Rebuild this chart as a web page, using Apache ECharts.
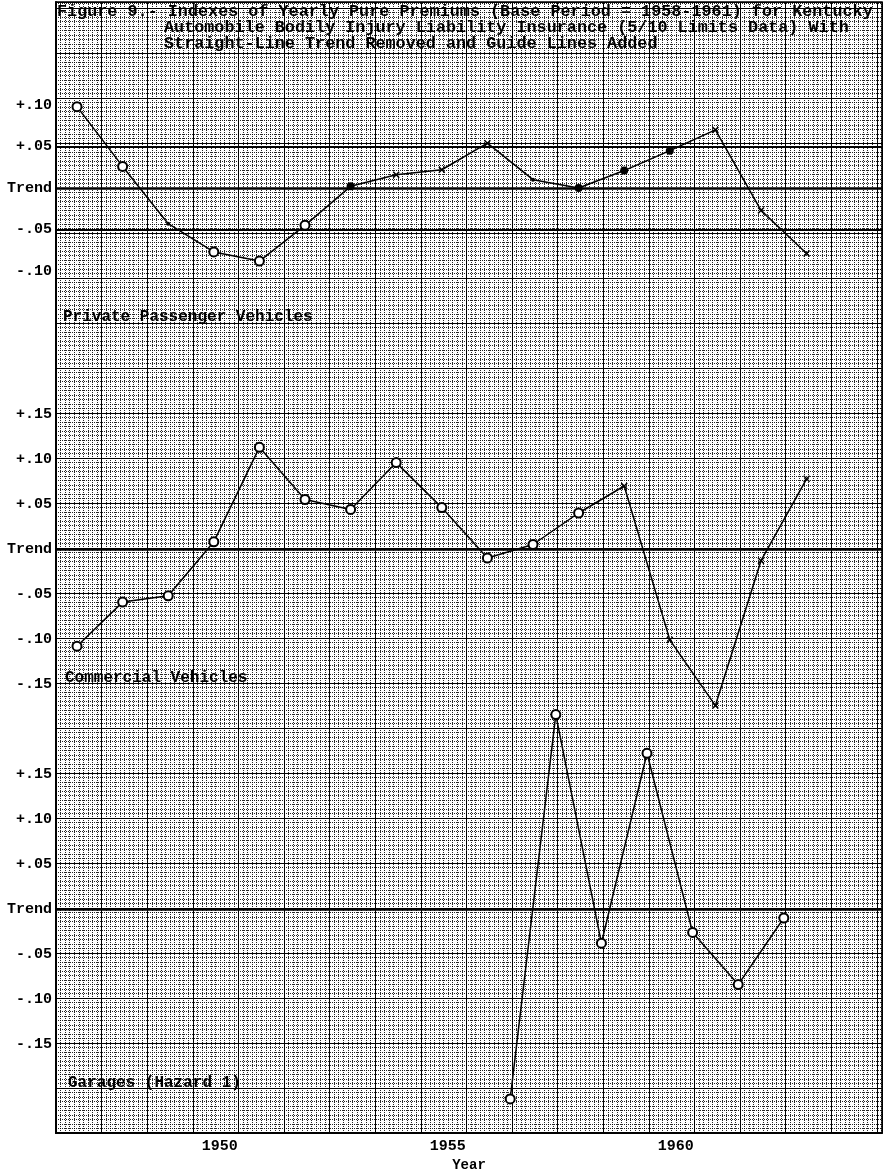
<!DOCTYPE html>
<html>
<head>
<meta charset="utf-8">
<script src="https://cdn.jsdelivr.net/npm/echarts@6/dist/echarts.min.js"></script>
<style>
html,body{margin:0;padding:0;background:#fff;}
#chart{width:884px;height:1170px;}
</style>
</head>
<body>
<div id="chart"></div>
<script>
// ---------------- DATA ----------------
const years = [1947,1948,1949,1950,1951,1952,1953,1954,1955,1956,1957,1958,1959,1960,1961,1962,1963];
const privatePassenger = [0.098,0.026,-0.043,-0.077,-0.088,-0.045,0.002,0.016,0.022,0.054,0.010,0.000,0.021,0.045,0.070,-0.027,-0.079];
const privateMarks = ['o','o','.','o','o','o','*','x','x','x','.','*','*','*','x','x','x'];
const commercial = [-0.108,-0.059,-0.052,0.008,0.113,0.055,0.044,0.096,0.046,-0.010,0.005,0.040,0.070,-0.101,-0.174,-0.013,0.078];
const commercialMarks = ['o','o','o','o','o','o','o','o','o','o','o','o','x','x','x','x','x'];
const garageYears = [1956.5,1957.5,1958.5,1959.5,1960.5,1961.5,1962.5];
const garages = [-0.211,0.216,-0.038,0.173,-0.026,-0.084,-0.010];
const garageMarks = ['o','o','o','o','o','o','o'];
const yearTicks = [1950,1955,1960];
const privateTicks = [-0.10,-0.05,0,0.05,0.10];
const commercialTicks = [-0.15,-0.10,-0.05,0,0.05,0.10,0.15];
const garageTicks = [-0.15,-0.10,-0.05,0,0.05,0.10,0.15];
const privateGuides = [-0.05,0.05];
const titleLines = [
  'Figure 9.- Indexes of Yearly Pure Premiums (Base Period = 1958-1961) for Kentucky',
  'Automobile Bodily Injury Liability Insurance (5/10 Limits Data) With',
  'Straight-Line Trend Removed and Guide Lines Added'
];
const panelNames = ['Private Passenger Vehicles','Commercial Vehicles','Garages (Hazard 1)'];
const xAxisName = 'Year';

// ---------------- LAYOUT ----------------
const W = 884, H = 1170;
const plot = {left:56, right:2, top:2, bottom:37};
const plotW = W - plot.left - plot.right;
const plotH = H - plot.top - plot.bottom;
const firstPointPx = 77, pxPerYear = 45.6;
const xMin = 1947 - (firstPointPx - plot.left) / pxPerYear;
const xMax = xMin + plotW / pxPerYear;
function yRange(zeroPx, pxPerUnit){
  return {min: -(plot.top + plotH - zeroPx) / pxPerUnit, max: (zeroPx - plot.top) / pxPerUnit};
}
const panelScale = [yRange(188, 830), yRange(549, 900), yRange(909, 900)];
const MONO = '"Liberation Mono","DejaVu Sans Mono",monospace';
const XPATH = 'path://M0,1.5L1.5,0L5,3.5L8.5,0L10,1.5L6.5,5L10,8.5L8.5,10L5,6.5L1.5,10L0,8.5L3.5,5Z';

function markStyle(m){
  if (m === 'o') return {symbol:'emptyCircle', symbolSize:9};
  if (m === '.') return {symbol:'circle', symbolSize:4};
  if (m === '*') return {symbol:'circle', symbolSize:8};
  return {symbol:XPATH, symbolSize:7};
}
function fmtY(v){
  if (Math.abs(v) < 1e-9) return 'Trend';
  return (v > 0 ? '+' : '-') + Math.abs(v).toFixed(2).replace(/^0/, '');
}
function buildData(xs, ys, marks){
  return xs.map((x,i) => Object.assign({value:[x, ys[i]]}, markStyle(marks[i])));
}

const grids = [0,1,2,3].map(() => Object.assign({containLabel:false, outerBoundsMode:'none'}, plot));
grids[0].show = true; grids[0].borderColor = '#000'; grids[0].borderWidth = 1.5; grids[0].backgroundColor = '#fff';

const xAxes = [{
  gridIndex:0, type:'value', min:0, max:plotW / pxPerYear, interval:1,
  axisLine:{show:true, lineStyle:{color:'#000', width:2}},
  axisTick:{show:false}, axisLabel:{show:false},
  splitLine:{show:true, lineStyle:{color:'#000', width:1}},
  minorTick:{show:false, splitNumber:10},
  minorSplitLine:{show:true, lineStyle:{color:'#000', width:1, type:'dotted', opacity:0.85}}
}];
const yAxes = [{
  gridIndex:0, type:'value', min:0, max:plotH / 45, interval:1,
  axisLine:{show:true, lineStyle:{color:'#000', width:2}},
  axisTick:{show:false}, axisLabel:{show:false},
  splitLine:{show:true, lineStyle:{color:'#000', width:1}},
  minorTick:{show:false, splitNumber:10},
  minorSplitLine:{show:true, lineStyle:{color:'#000', width:1, type:'dotted', opacity:0.85}}
}];
const tickSets = [privateTicks, commercialTicks, garageTicks];
for (let p = 0; p < 3; p++){
  const isBottom = p === 2;
  xAxes.push({
    gridIndex:p+1, type:'value', min:xMin, max:xMax, show:isBottom,
    axisLine:{show:false}, axisTick:{show:false}, splitLine:{show:false},
    axisLabel:{show:isBottom, customValues:yearTicks, margin:6, color:'#000',
      fontFamily:MONO, fontWeight:'bold', fontSize:15, padding:[0,0,0,12],
      formatter: v => String(v)},
    name: isBottom ? xAxisName : '', nameLocation:'middle', nameGap:12,
    nameTextStyle:{color:'#000', fontFamily:MONO, fontWeight:'bold', fontSize:14}
  });
  yAxes.push({
    gridIndex:p+1, type:'value', min:panelScale[p].min, max:panelScale[p].max,
    axisLine:{show:false}, axisTick:{show:false}, splitLine:{show:false},
    axisLabel:{show:true, customValues:tickSets[p], margin:4, color:'#000',
      fontFamily:MONO, fontWeight:'bold', fontSize:15, formatter: fmtY}
  });
}

function trendMark(extra){
  const lines = [{yAxis:0, lineStyle:{width:2.5}}];
  (extra || []).forEach(v => lines.push({yAxis:v, lineStyle:{width:1.8}}));
  return {silent:true, symbol:['none','none'], label:{show:false},
    lineStyle:{color:'#000', type:'solid'}, data:lines, animation:false};
}
const lineCommon = {type:'line', lineStyle:{color:'#000', width:1.5},
  itemStyle:{color:'#000', borderWidth:1.5}, animation:false, z:5};

const series = [
  Object.assign({}, lineCommon, {name:panelNames[0], xAxisIndex:1, yAxisIndex:1,
    data:buildData(years, privatePassenger, privateMarks), markLine:trendMark(privateGuides)}),
  Object.assign({}, lineCommon, {name:panelNames[1], xAxisIndex:2, yAxisIndex:2,
    data:buildData(years, commercial, commercialMarks), markLine:trendMark()}),
  Object.assign({}, lineCommon, {name:panelNames[2], xAxisIndex:3, yAxisIndex:3,
    data:buildData(garageYears, garages, garageMarks), markLine:trendMark()})
];

const graphics = [];
const titleX = [57, 164, 164], titleY = [12, 28, 44];
titleLines.forEach((t,i) => graphics.push({type:'text', x:titleX[i], y:titleY[i], z:10,
  style:{text:t, fill:'#000', font:'bold 16.8px ' + MONO, verticalAlign:'middle'}}));
const nameX = [63, 65, 68], nameY = [317, 678, 1083];
panelNames.forEach((t,i) => graphics.push({type:'text', x:nameX[i], y:nameY[i], z:10,
  style:{text:t, fill:'#000', font:'bold 16px ' + MONO, verticalAlign:'middle'}}));

const chart = echarts.init(document.getElementById('chart'), null, {renderer:'canvas'});
chart.setOption({
  backgroundColor:'#fff',
  animation:false,
  grid:grids, xAxis:xAxes, yAxis:yAxes, series:series, graphic:graphics
});
</script>
</body>
</html>
